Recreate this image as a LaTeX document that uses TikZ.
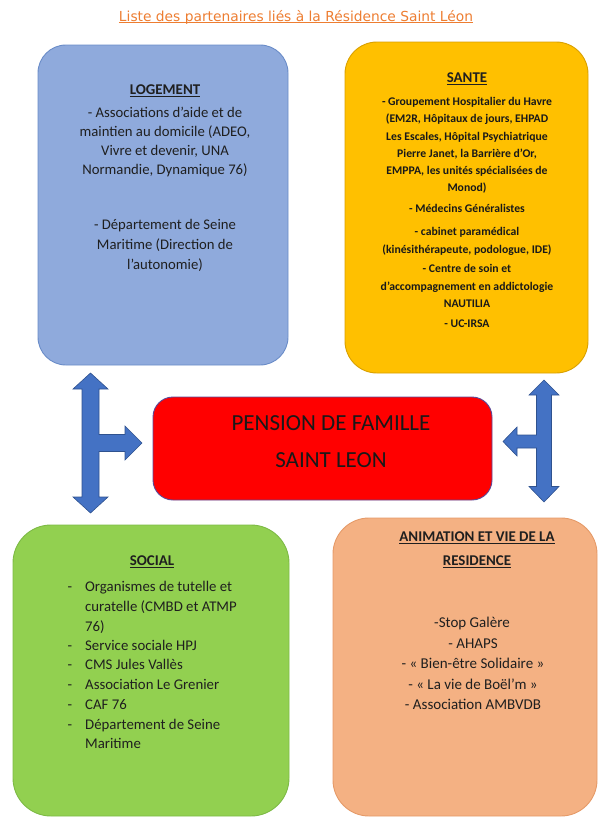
\documentclass[tikz,border=0pt]{standalone}
\usepackage{fontspec}
\setmainfont{Carlito}
\newfontfamily\titlefont{DejaVu Sans}
\definecolor{bluefill}{HTML}{8FAADC}
\definecolor{blueline}{HTML}{6A8CC8}
\definecolor{yelfill}{HTML}{FFC000}
\definecolor{yelline}{HTML}{D9A000}
\definecolor{redfill}{HTML}{FF0000}
\definecolor{redline}{HTML}{5A4A9A}
\definecolor{grnfill}{HTML}{92D050}
\definecolor{grnline}{HTML}{7DBA45}
\definecolor{orgfill}{HTML}{F4B183}
\definecolor{orgline}{HTML}{E59A68}
\definecolor{arrfill}{HTML}{4472C4}
\definecolor{arrline}{HTML}{2F528F}
\definecolor{titlecol}{HTML}{ED7D31}
\newcommand{\myul}[1]{\setbox0=\hbox{#1}\rlap{\rule[-0.16em]{\wd0}{0.07em}}\box0}
\begin{document}
\begin{tikzpicture}[x=1pt,y=-1pt,
  box/.style={inner sep=0pt, outer sep=0pt, line width=0.9pt},
  lgtxt/.style={font=\fontsize{14.7}{17}\selectfont, anchor=mid, inner sep=0pt, text=black!88},
  lghead/.style={font=\fontsize{14.9}{17}\selectfont\bfseries, anchor=mid, inner sep=0pt, text=black!88},
  sntxt/.style={font=\fontsize{11.7}{14}\selectfont\bfseries, anchor=mid, inner sep=0pt, text=black!90},
  sotxt/.style={font=\fontsize{14.8}{17}\selectfont, anchor=mid west, inner sep=0pt, text=black!88},
  sodash/.style={font=\fontsize{14.8}{17}\selectfont, anchor=mid, inner sep=0pt, text=black!88},
  antxt/.style={font=\fontsize{15}{17}\selectfont, anchor=mid, inner sep=0pt, text=black!88},
  redtxt/.style={font=\fontsize{23}{26}\selectfont, anchor=mid, inner sep=0pt, text=black!90},
  blockarrow/.style={fill=arrfill, draw=arrline, line width=0.6pt, line join=miter}
]
\useasboundingbox (0,0) rectangle (598,819);

% title
\node[font=\titlefont\fontsize{13.8}{16}\selectfont, text=titlecol, anchor=base, inner sep=0pt] (title) at (296,21) {\myul{Liste des partenaires liés à la Résidence Saint Léon}};

% boxes
\node[box, fill=bluefill, draw=blueline, rounded corners=28pt, minimum width=250pt, minimum height=320pt] (logement) at (163,205) {};
\node[box, fill=yelfill, draw=yelline, rounded corners=32pt, minimum width=243pt, minimum height=331pt] (sante) at (466.5,207.5) {};
\node[box, fill=redfill, draw=redline, rounded corners=20pt, minimum width=339pt, minimum height=103pt] (pension) at (322.5,448.5) {};
\node[box, fill=grnfill, draw=grnline, rounded corners=38pt, minimum width=276pt, minimum height=291pt] (social) at (151,670.5) {};
\node[box, fill=orgfill, draw=orgline, rounded corners=36pt, minimum width=264pt, minimum height=298pt] (anim) at (465,667) {};

% LOGEMENT text
\node[lghead] (lgh) at (165,92) {\myul{LOGEMENT}};
\node[lgtxt] (lg1) at (165,115) {- Associations d’aide et de};
\node[lgtxt] (lg2) at (165,134) {maintien au domicile (ADEO,};
\node[lgtxt] (lg3) at (165,153) {Vivre et devenir, UNA};
\node[lgtxt] (lg4) at (165,172) {Normandie, Dynamique 76)};
\node[lgtxt] (lg5) at (165,227) {- Département de Seine};
\node[lgtxt] (lg6) at (165,247) {Maritime (Direction de};
\node[lgtxt] (lg7) at (165,267) {l’autonomie)};

% SANTE text
\node[lghead] (snh) at (467,80) {\myul{SANTE}};
\node[sntxt] (sn1) at (467,103) {- Groupement Hospitalier du Havre};
\node[sntxt] (sn2) at (467,120) {(EM2R, Hôpitaux de jours, EHPAD};
\node[sntxt] (sn3) at (467,138) {Les Escales, Hôpital Psychiatrique};
\node[sntxt] (sn4) at (467,155) {Pierre Janet, la Barrière d’Or,};
\node[sntxt] (sn5) at (467,172) {EMPPA, les unités spécialisées de};
\node[sntxt] (sn6) at (467,189) {Monod)};
\node[sntxt] (sn7) at (467,210) {- Médecins Généralistes};
\node[sntxt] (sn8) at (467,233) {- cabinet paramédical};
\node[sntxt] (sn9) at (467,251) {(kinésithérapeute, podologue, IDE)};
\node[sntxt] (sn10) at (467,270) {- Centre de soin et};
\node[sntxt] (sn11) at (467,288) {d’accompagnement en addictologie};
\node[sntxt] (sn12) at (467,305) {NAUTILIA};
\node[sntxt] (sn13) at (467,325) {- UC-IRSA};

% PENSION text
\node[redtxt] (pn1) at (331,428) {PENSION DE FAMILLE};
\node[redtxt] (pn2) at (331,465) {SAINT LEON};

% SOCIAL text
\node[lghead] (soh) at (152,563) {\myul{SOCIAL}};
\node[sodash] (sd1) at (70,589) {-};
\node[sotxt] (so1) at (85,589) {Organismes de tutelle et};
\node[sotxt] (so2) at (85,609) {curatelle (CMBD et ATMP};
\node[sotxt] (so3) at (85,629) {76)};
\node[sodash] (sd2) at (70,648) {-};
\node[sotxt] (so4) at (85,648) {Service sociale HPJ};
\node[sodash] (sd3) at (70,667) {-};
\node[sotxt] (so5) at (85,667) {CMS Jules Vallès};
\node[sodash] (sd4) at (70,687) {-};
\node[sotxt] (so6) at (85,687) {Association Le Grenier};
\node[sodash] (sd5) at (70,707) {-};
\node[sotxt] (so7) at (85,707) {CAF 76};
\node[sodash] (sd6) at (70,727) {-};
\node[sotxt] (so8) at (85,727) {Département de Seine};
\node[sotxt] (so9) at (85,746) {Maritime};

% ANIMATION text
\node[lghead] (anh1) at (477,539) {\myul{ANIMATION ET VIE DE LA}};
\node[lghead] (anh2) at (477,563) {\myul{RESIDENCE}};
\node[antxt] (an1) at (472,625) {-Stop Galère};
\node[antxt] (an2) at (473,646) {- AHAPS};
\node[antxt] (an3) at (473,666) {- «~Bien-être Solidaire~»};
\node[antxt] (an4) at (473,687) {- «~La vie de Boël’m~»};
\node[antxt] (an5) at (473,707) {- Association AMBVDB};

% left block arrow (LOGEMENT / SOCIAL / PENSION)
\coordinate (la) at (90.5,443);
\draw[blockarrow] (90.5,373) -- (108,389) -- (99,389) -- (99,434.5) -- (125,434.5) -- (125,426) -- (142,443) -- (125,460) -- (125,451.5) -- (99,451.5) -- (99,497) -- (108,497) -- (90.5,513) -- (73,497) -- (82,497) -- (82,389) -- (73,389) -- cycle;

% right block arrow (SANTE / ANIMATION / PENSION)
\coordinate (ra) at (544,441.5);
\draw[blockarrow] (544,380) -- (559,395) -- (551.5,395) -- (551.5,486.5) -- (559,486.5) -- (544,502) -- (529,486.5) -- (536.5,486.5) -- (536.5,448) -- (517,448) -- (517,456) -- (503,441.5) -- (517,427) -- (517,435) -- (536.5,435) -- (536.5,395) -- (529,395) -- cycle;

\end{tikzpicture}
\end{document}
